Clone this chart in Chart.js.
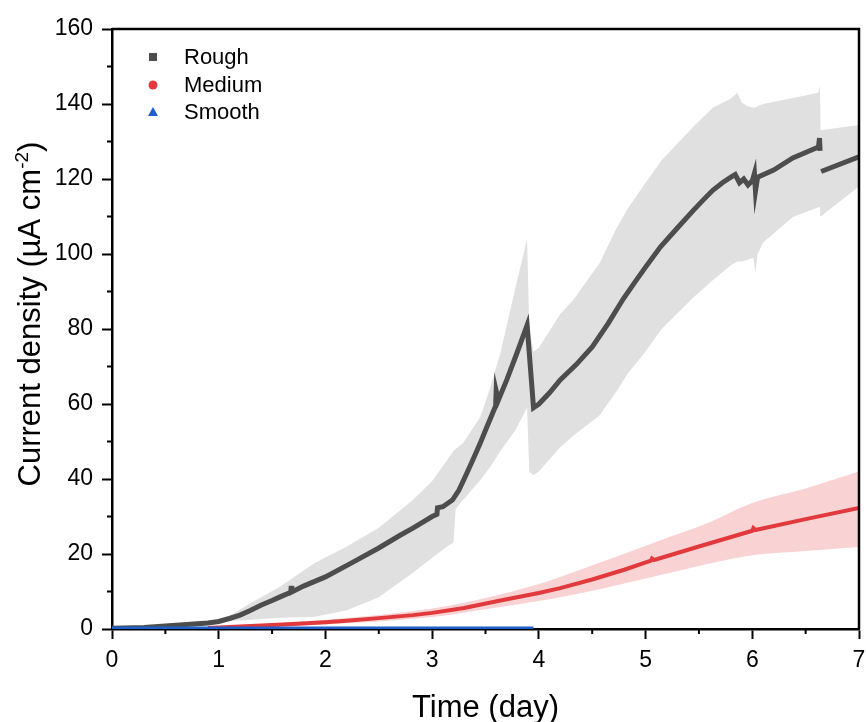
<!DOCTYPE html>
<html>
<head>
<meta charset="utf-8">
<script src="https://cdn.jsdelivr.net/npm/chart.js@4.4.1/dist/chart.umd.min.js"></script>
<style>
  html, body { margin: 0; padding: 0; background: #fff; }
  #wrap { width: 866px; height: 722px; position: relative; }
</style>
</head>
<body>
<div id="wrap"><canvas id="cd"></canvas></div>
<script>
// Rough: moyenne
const roughT = [0, 0.3, 0.5, 0.8, 0.9, 1.0, 1.1, 1.2, 1.3, 1.4, 1.5, 1.57, 1.675, 1.68, 1.685, 1.8, 2.0, 2.25, 2.5, 2.7, 2.82, 3.0, 3.045, 3.05, 3.1, 3.19, 3.25, 3.3, 3.38, 3.45, 3.5, 3.595, 3.6, 3.62, 3.7, 3.8, 3.89, 3.95, 4.0, 4.1, 4.2, 4.35, 4.5, 4.65, 4.79, 4.9, 5.0, 5.14, 5.3, 5.45, 5.55, 5.63, 5.72, 5.8, 5.84, 5.88, 5.92, 5.96, 6.0, 6.02, 6.03, 6.05, 6.2, 6.38, 6.62, 6.63, 6.635, 6.64, 6.645, 7.0];
const roughY = [0.2, 0.4, 0.8, 1.4, 1.6, 2.0, 2.8, 3.7, 5.0, 6.4, 7.6, 8.5, 9.8, 11.5, 9.9, 11.5, 13.9, 17.7, 21.6, 25, 26.9, 30.0, 30.6, 32.3, 32.6, 34.4, 37, 40, 45, 49.5, 53, 59.5, 63.5, 61, 66.5, 74, 81, 59, 60, 63, 66.4, 70.5, 75.2, 81.5, 88, 92.5, 96.5, 101.9, 107, 111.7, 114.7, 117, 119, 120.5, 121.2, 119, 120, 118.4, 119.5, 121.5, 116.8, 120.5, 122.4, 125.6, 128.5, 130.9, 127.5, null, 122, 125.9];
// Rough: bande (écart)
const roughBandT = [0.9, 1.1, 1.27, 1.57, 1.9, 2.2, 2.5, 2.82, 3.0, 3.14, 3.2, 3.22, 3.29, 3.45, 3.54, 3.64, 3.78, 3.89, 3.91, 3.95, 4.0, 4.2, 4.32, 4.57, 4.73, 4.83, 5.0, 5.15, 5.45, 5.63, 5.8, 5.86, 5.9, 5.95, 6.01, 6.03, 6.05, 6.1, 6.38, 6.62, 6.63, 6.635, 6.64, 7.0];
const roughHi = [1.6, 3.5, 6.5, 11.2, 17.6, 22, 27, 34.4, 39.5, 45, 47.5, 48, 49.6, 56.5, 64, 73.6, 91, 104, 80, 74, 75, 84, 87.7, 97.6, 107, 112, 119, 125, 134, 139, 141.5, 143, 140.5, 139.5, 139, 139, 139.5, 140, 141.6, 143, 145, 143, 133, 134.4];
const roughLo = [1.6, 2.2, 2.4, 3.0, 3.3, 5, 8.5, 15, 19, 22, 23, 32, 34.4, 39.7, 43, 47.5, 53, 59, 42, 41, 42, 48.5, 51.5, 57, 63.5, 68, 74, 80, 88.5, 93, 97, 98, 98, 98.4, 99, 95, 100, 103, 109.9, 112.5, 112.5, 112.5, 110, 118];

// Medium
const medT = [0.9, 1.0, 1.3, 1.6, 2.0, 2.2, 2.5, 2.82, 3.0, 3.3, 3.64, 4.0, 4.2, 4.5, 4.8, 5.05, 5.06, 5.08, 5.5, 6.0, 6.01, 6.03, 6.5, 7.0];
const medY = [0.3, 0.4, 0.8, 1.2, 1.8, 2.2, 2.9, 3.7, 4.3, 5.6, 7.6, 9.6, 10.9, 13.2, 15.8, 18.2, 18.8, 18.4, 22, 26.2, 26.9, 26.4, 29.3, 32.3];
const medBandT = [1.0, 2.0, 3.0, 3.5, 4.0, 4.2, 4.6, 5.14, 5.6, 6.0, 6.5, 7.0];
const medHi = [0.6, 2.5, 5.5, 8.3, 12, 13.9, 18, 23.7, 28.5, 33.6, 37.5, 42];
const medLo = [0.2, 1.2, 3.2, 5.3, 7.5, 8.5, 10.8, 14.4, 17.5, 19.7, 20.8, 21.9];

// Smooth
const smoothT = [0, 1, 2, 3, 3.95];
const smoothY = [0.3, 0.3, 0.3, 0.3, 0.3];

const seriesNames = ['Rough', 'Medium', 'Smooth'];
const xTitle = 'Time (day)';

const FONT = "'Liberation Sans', Arial, sans-serif";
const pts = (xs, ys) => xs.map((x, i) => ({ x: x, y: ys[i] }));

// Ticks mineurs + cadre + titres + légende
const extras = {
    id: 'extras',
    afterDraw(chart) {
        const ctx = chart.ctx;
        const a = chart.chartArea;
        const xs = chart.scales.x, ys = chart.scales.y;
        ctx.save();
        ctx.strokeStyle = '#000';
        // cadre haut et droite
        ctx.lineWidth = 2.5;
        ctx.beginPath();
        ctx.moveTo(a.left, a.top); ctx.lineTo(a.right, a.top); ctx.lineTo(a.right, a.bottom);
        ctx.stroke();
        // ticks mineurs
        ctx.lineWidth = 2;
        ctx.beginPath();
        for (let v = 10; v < 160; v += 20) {
            const py = ys.getPixelForValue(v);
            ctx.moveTo(a.left - 5, py); ctx.lineTo(a.left, py);
        }
        for (let v = 0.5; v < 7; v += 1) {
            const px = xs.getPixelForValue(v);
            ctx.moveTo(px, a.bottom); ctx.lineTo(px, a.bottom + 5);
        }
        ctx.stroke();

        // titres des axes
        ctx.fillStyle = '#000';
        ctx.font = '31px ' + FONT;
        ctx.textAlign = 'center';
        ctx.textBaseline = 'alphabetic';
        ctx.fillText(xTitle, (a.left + a.right) / 2, 717);

        ctx.translate(40, 314);
        ctx.rotate(-Math.PI / 2);
        const main = 'Current density (\u00B5A cm';
        const sup = '-2';
        const close = ')';
        ctx.font = '31px ' + FONT;
        const w1 = ctx.measureText(main).width;
        const w3 = ctx.measureText(close).width;
        ctx.font = '19px ' + FONT;
        const w2 = ctx.measureText(sup).width;
        let x0 = -(w1 + w2 + w3) / 2;
        ctx.textAlign = 'left';
        ctx.font = '31px ' + FONT;
        ctx.fillText(main, x0, 0);
        ctx.font = '19px ' + FONT;
        ctx.fillText(sup, x0 + w1, -12);
        ctx.font = '31px ' + FONT;
        ctx.fillText(close, x0 + w1 + w2, 0);
        ctx.setTransform(1, 0, 0, 1, 0, 0);

        // légende
        const rows = [57, 85, 112];
        const mx = 153;
        chart.data.datasets.slice(0, 3).forEach((ds, i) => {
            const y = rows[i];
            ctx.fillStyle = ds.borderColor;
            ctx.beginPath();
            if (i === 0) {
                ctx.rect(mx - 4, y - 4, 8, 8);
            } else if (i === 1) {
                ctx.arc(mx, y, 4.5, 0, Math.PI * 2);
            } else {
                ctx.moveTo(mx, y - 5); ctx.lineTo(mx + 5, y + 4); ctx.lineTo(mx - 5, y + 4); ctx.closePath();
            }
            ctx.fill();
            ctx.fillStyle = '#000';
            ctx.font = '22px ' + FONT;
            ctx.textAlign = 'left';
            ctx.textBaseline = 'middle';
            ctx.fillText(ds.label, 184, y + 1);
        });
        ctx.restore();
    }
};

document.addEventListener('DOMContentLoaded', () => {
    const ctx = document.getElementById('cd').getContext('2d');

    new Chart(ctx, {
        type: 'line',
        data: {
            datasets: [
                { label: seriesNames[0], data: pts(roughT, roughY), borderColor: '#4d4d4d', borderWidth: 5, pointRadius: 0, spanGaps: false, order: 2 },
                { label: seriesNames[1], data: pts(medT, medY), borderColor: '#e2393c', borderWidth: 4, pointRadius: 0, order: 1 },
                { label: seriesNames[2], data: pts(smoothT, smoothY), borderColor: '#1f5fcc', borderWidth: 3, pointRadius: 0, order: 0 },
                { label: 'roughHi', data: pts(roughBandT, roughHi), borderWidth: 0, pointRadius: 0, backgroundColor: '#e0e0e0', fill: '+1', order: 5 },
                { label: 'roughLo', data: pts(roughBandT, roughLo), borderWidth: 0, pointRadius: 0, fill: false, order: 5 },
                { label: 'medHi', data: pts(medBandT, medHi), borderWidth: 0, pointRadius: 0, backgroundColor: '#f9d3d3', fill: '+1', cubicInterpolationMode: 'monotone', order: 4 },
                { label: 'medLo', data: pts(medBandT, medLo), borderWidth: 0, pointRadius: 0, fill: false, cubicInterpolationMode: 'monotone', order: 4 }
            ]
        },
        options: {
            responsive: true,
            maintainAspectRatio: false,
            animation: false,
            layout: { padding: { left: 0, top: 29, right: 7, bottom: 0 } },
            plugins: { legend: { display: false }, tooltip: { enabled: false } },
            scales: {
                x: {
                    type: 'linear', min: 0, max: 7,
                    afterFit: (s) => { s.height = 93; s.paddingRight = 0; s.paddingLeft = 0; },
                    ticks: { stepSize: 1, color: '#000', padding: 8, maxRotation: 0, font: { family: FONT, size: 23 } },
                    grid: { drawOnChartArea: false, tickLength: 10, tickWidth: 2, tickColor: '#000' },
                    border: { display: true, color: '#000', width: 2.5 }
                },
                y: {
                    min: 0, max: 160,
                    afterFit: (s) => { s.width = 112; s.paddingTop = 0; s.paddingBottom = 0; },
                    ticks: { stepSize: 20, color: '#000', padding: 9, font: { family: FONT, size: 23 } },
                    grid: { drawOnChartArea: false, tickLength: 10, tickWidth: 2, tickColor: '#000' },
                    border: { display: true, color: '#000', width: 2.5 }
                }
            }
        },
        plugins: [extras]
    });
});
</script>
</body>
</html>
